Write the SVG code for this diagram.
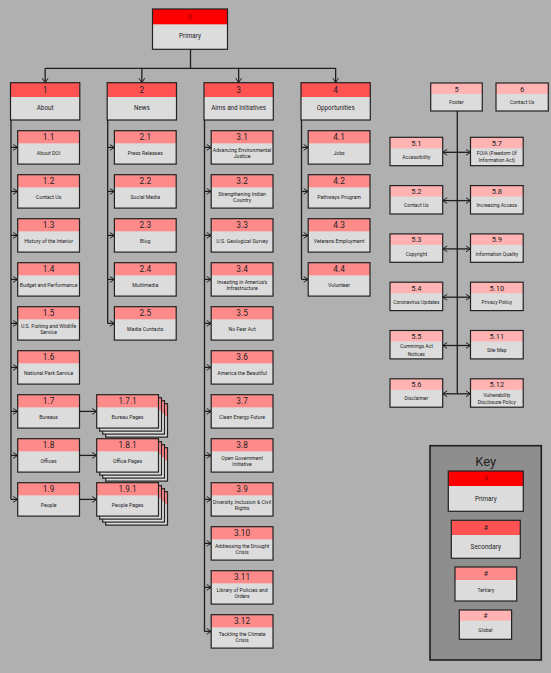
<svg xmlns="http://www.w3.org/2000/svg" width="551" height="673" viewBox="0 0 551 673">
<style>
.bg{fill:#b0b0b0}
.bd{fill:#dcdcdc}
.h1{fill:#ff0000}.h2{fill:#ff5252}.h3{fill:#ff8a8a}.h4{fill:#ffb3b3}
.ol{fill:none;stroke:#222;stroke-width:1.2}
text{font-family:Roboto,"Liberation Sans",sans-serif;fill:#222;text-anchor:middle}
.n3{font-size:8.3px}.l3{font-size:5.2px}
.n1{font-size:8.3px}.l1{font-size:6.3px}
.n4{font-size:7.5px}.l4{font-size:5px}
.dr{fill:#9a0000}
.cn path,.cn line{fill:none;stroke:#1e1e1e;stroke-width:1.3}
.ah{fill:none;stroke:#1e1e1e;stroke-width:1}
</style>
<defs>
<marker id="arr" markerUnits="userSpaceOnUse" markerWidth="7" markerHeight="8" refX="5" refY="3.7" orient="auto-start-reverse"><path class="ah" d="M0.5,0.8 L5,3.7 L0.5,6.6"/></marker>
<g id="c1"><rect class="bd" width="69.3" height="37.3"/><rect class="h2" width="69.3" height="14.3"/><rect class="ol" width="69.3" height="37.3"/></g>
<g id="c3"><rect class="bd" width="61.8" height="33.4"/><rect class="h3" width="61.8" height="12.6"/><rect class="ol" width="61.8" height="33.4"/></g>
<g id="c4"><rect class="bd" width="52.7" height="28.4"/><rect class="h4" width="52.7" height="11"/><rect class="ol" width="52.7" height="28.4"/></g>
</defs>
<rect class="bg" width="551" height="673"/>

<g class="cn" id="connectors">
<path d="M190.5,49.3 V68.3 M45.15,68.3 H335.65"/>
<path d="M45.15,68.3 V82.7" marker-end="url(#arr)"/>
<path d="M141.85,68.3 V82.7" marker-end="url(#arr)"/>
<path d="M238.65,68.3 V82.7" marker-end="url(#arr)"/>
<path d="M335.65,68.3 V82.7" marker-end="url(#arr)"/>
<path d="M11,120 V499.4"/>
<path d="M11,147.4 H17.7" marker-end="url(#arr)"/>
<path d="M11,191.4 H17.7" marker-end="url(#arr)"/>
<path d="M11,235.4 H17.7" marker-end="url(#arr)"/>
<path d="M11,279.4 H17.7" marker-end="url(#arr)"/>
<path d="M11,323.4 H17.7" marker-end="url(#arr)"/>
<path d="M11,367.4 H17.7" marker-end="url(#arr)"/>
<path d="M11,411.4 H17.7" marker-end="url(#arr)"/>
<path d="M11,455.4 H17.7" marker-end="url(#arr)"/>
<path d="M11,499.4 H17.7" marker-end="url(#arr)"/>
<path d="M79.5,411.4 H96.7" marker-end="url(#arr)"/>
<path d="M79.5,455.4 H96.7" marker-end="url(#arr)"/>
<path d="M79.5,499.4 H96.7" marker-end="url(#arr)"/>
<path d="M107.7,120 V323.4"/>
<path d="M107.7,147.4 H114.4" marker-end="url(#arr)"/>
<path d="M107.7,191.4 H114.4" marker-end="url(#arr)"/>
<path d="M107.7,235.4 H114.4" marker-end="url(#arr)"/>
<path d="M107.7,279.4 H114.4" marker-end="url(#arr)"/>
<path d="M107.7,323.4 H114.4" marker-end="url(#arr)"/>
<path d="M204.5,120 V631.4"/>
<path d="M204.5,147.4 H211.2" marker-end="url(#arr)"/>
<path d="M204.5,191.4 H211.2" marker-end="url(#arr)"/>
<path d="M204.5,235.4 H211.2" marker-end="url(#arr)"/>
<path d="M204.5,279.4 H211.2" marker-end="url(#arr)"/>
<path d="M204.5,323.4 H211.2" marker-end="url(#arr)"/>
<path d="M204.5,367.4 H211.2" marker-end="url(#arr)"/>
<path d="M204.5,411.4 H211.2" marker-end="url(#arr)"/>
<path d="M204.5,455.4 H211.2" marker-end="url(#arr)"/>
<path d="M204.5,499.4 H211.2" marker-end="url(#arr)"/>
<path d="M204.5,543.4 H211.2" marker-end="url(#arr)"/>
<path d="M204.5,587.4 H211.2" marker-end="url(#arr)"/>
<path d="M204.5,631.4 H211.2" marker-end="url(#arr)"/>
<path d="M301.5,120 V279.4"/>
<path d="M301.5,147.4 H308.2" marker-end="url(#arr)"/>
<path d="M301.5,191.4 H308.2" marker-end="url(#arr)"/>
<path d="M301.5,235.4 H308.2" marker-end="url(#arr)"/>
<path d="M301.5,279.4 H308.2" marker-end="url(#arr)"/>
<path d="M457.3,111 V393.8"/>
<path d="M442.7,152.3 H470.5" marker-start="url(#arr)" marker-end="url(#arr)"/>
<path d="M442.7,200.6 H470.5" marker-start="url(#arr)" marker-end="url(#arr)"/>
<path d="M442.7,248.9 H470.5" marker-start="url(#arr)" marker-end="url(#arr)"/>
<path d="M442.7,297.2 H470.5" marker-start="url(#arr)" marker-end="url(#arr)"/>
<path d="M442.7,345.5 H470.5" marker-start="url(#arr)" marker-end="url(#arr)"/>
<path d="M442.7,393.8 H470.5" marker-start="url(#arr)" marker-end="url(#arr)"/>
</g>

<g id="n0" transform="translate(152.5,9)"><rect class="bd" width="75" height="40.3"/><rect class="h1" width="75" height="15.3"/><rect class="ol" width="75" height="40.3"/><text class="dr" x="37.5" y="10.3" style="font-size:7.5px">0</text><text class="l1" x="37.5" y="29.3">Primary</text></g>

<g id="n1" transform="translate(10.5,82.7)"><use href="#c1"/><text class="n1" x="34.65" y="10.6">1</text><text class="l1" x="34.65" y="27.8">About</text></g>
<g id="n2" transform="translate(107.2,82.7)"><use href="#c1"/><text class="n1" x="34.65" y="10.6">2</text><text class="l1" x="34.65" y="27.8">News</text></g>
<g id="n3" transform="translate(204,82.7)"><use href="#c1"/><text class="n1" x="34.65" y="10.6">3</text><text class="l1" x="34.65" y="27.8">Aims and Initiatives</text></g>
<g id="n4" transform="translate(301,82.7)"><use href="#c1"/><text class="n1" x="34.65" y="10.6">4</text><text class="l1" x="34.65" y="27.8">Opportunities</text></g>

<g id="n1-1" transform="translate(17.7,130.7)"><use href="#c3"/><text class="n3" x="30.9" y="9.6">1.1</text><text class="l3" x="30.9" y="24.8">About DOI</text></g>
<g id="n1-2" transform="translate(17.7,174.7)"><use href="#c3"/><text class="n3" x="30.9" y="9.6">1.2</text><text class="l3" x="30.9" y="24.8">Contact Us</text></g>
<g id="n1-3" transform="translate(17.7,218.7)"><use href="#c3"/><text class="n3" x="30.9" y="9.6">1.3</text><text class="l3" x="30.9" y="24.8">History of the Interior</text></g>
<g id="n1-4" transform="translate(17.7,262.7)"><use href="#c3"/><text class="n3" x="30.9" y="9.6">1.4</text><text class="l3" x="30.9" y="24.8">Budget and Performance</text></g>
<g id="n1-5" transform="translate(17.7,306.7)"><use href="#c3"/><text class="n3" x="30.9" y="9.6">1.5</text><text class="l3" x="30.9" y="21.2">U.S. Fishing and Wildlife</text><text class="l3" x="30.9" y="27.5">Service</text></g>
<g id="n1-6" transform="translate(17.7,350.7)"><use href="#c3"/><text class="n3" x="30.9" y="9.6">1.6</text><text class="l3" x="30.9" y="24.8">National Park Service</text></g>
<g id="n1-7" transform="translate(17.7,394.7)"><use href="#c3"/><text class="n3" x="30.9" y="9.6">1.7</text><text class="l3" x="30.9" y="24.8">Bureaus</text></g>
<g id="n1-8" transform="translate(17.7,438.7)"><use href="#c3"/><text class="n3" x="30.9" y="9.6">1.8</text><text class="l3" x="30.9" y="24.8">Offices</text></g>
<g id="n1-9" transform="translate(17.7,482.7)"><use href="#c3"/><text class="n3" x="30.9" y="9.6">1.9</text><text class="l3" x="30.9" y="24.8">People</text></g>

<g id="n1-7-1" transform="translate(96.7,394.7)"><use href="#c3" x="9" y="9"/><use href="#c3" x="6" y="6"/><use href="#c3" x="3" y="3"/><use href="#c3"/><text class="n3" x="30.9" y="9.6">1.7.1</text><text class="l3" x="30.9" y="24.8">Bureau Pages</text></g>
<g id="n1-8-1" transform="translate(96.7,438.7)"><use href="#c3" x="9" y="9"/><use href="#c3" x="6" y="6"/><use href="#c3" x="3" y="3"/><use href="#c3"/><text class="n3" x="30.9" y="9.6">1.8.1</text><text class="l3" x="30.9" y="24.8">Office Pages</text></g>
<g id="n1-9-1" transform="translate(96.7,482.7)"><use href="#c3" x="9" y="9"/><use href="#c3" x="6" y="6"/><use href="#c3" x="3" y="3"/><use href="#c3"/><text class="n3" x="30.9" y="9.6">1.9.1</text><text class="l3" x="30.9" y="24.8">People Pages</text></g>

<g id="n2-1" transform="translate(114.4,130.7)"><use href="#c3"/><text class="n3" x="30.9" y="9.6">2.1</text><text class="l3" x="30.9" y="24.8">Press Releases</text></g>
<g id="n2-2" transform="translate(114.4,174.7)"><use href="#c3"/><text class="n3" x="30.9" y="9.6">2.2</text><text class="l3" x="30.9" y="24.8">Social Media</text></g>
<g id="n2-3" transform="translate(114.4,218.7)"><use href="#c3"/><text class="n3" x="30.9" y="9.6">2.3</text><text class="l3" x="30.9" y="24.8">Blog</text></g>
<g id="n2-4" transform="translate(114.4,262.7)"><use href="#c3"/><text class="n3" x="30.9" y="9.6">2.4</text><text class="l3" x="30.9" y="24.8">Multimedia</text></g>
<g id="n2-5" transform="translate(114.4,306.7)"><use href="#c3"/><text class="n3" x="30.9" y="9.6">2.5</text><text class="l3" x="30.9" y="24.8">Media Contacts</text></g>

<g id="n3-1" transform="translate(211.2,130.7)"><use href="#c3"/><text class="n3" x="30.9" y="9.6">3.1</text><text class="l3" x="30.9" y="21.2">Advancing Environmental</text><text class="l3" x="30.9" y="27.5">Justice</text></g>
<g id="n3-2" transform="translate(211.2,174.7)"><use href="#c3"/><text class="n3" x="30.9" y="9.6">3.2</text><text class="l3" x="30.9" y="21.2">Strengthening Indian</text><text class="l3" x="30.9" y="27.5">Country</text></g>
<g id="n3-3" transform="translate(211.2,218.7)"><use href="#c3"/><text class="n3" x="30.9" y="9.6">3.3</text><text class="l3" x="30.9" y="24.8">U.S. Geological Survey</text></g>
<g id="n3-4" transform="translate(211.2,262.7)"><use href="#c3"/><text class="n3" x="30.9" y="9.6">3.4</text><text class="l3" x="30.9" y="21.2">Investing in America's</text><text class="l3" x="30.9" y="27.5">Infrastructure</text></g>
<g id="n3-5" transform="translate(211.2,306.7)"><use href="#c3"/><text class="n3" x="30.9" y="9.6">3.5</text><text class="l3" x="30.9" y="24.8">No Fear Act</text></g>
<g id="n3-6" transform="translate(211.2,350.7)"><use href="#c3"/><text class="n3" x="30.9" y="9.6">3.6</text><text class="l3" x="30.9" y="24.8">America the Beautiful</text></g>
<g id="n3-7" transform="translate(211.2,394.7)"><use href="#c3"/><text class="n3" x="30.9" y="9.6">3.7</text><text class="l3" x="30.9" y="24.8">Clean Energy Future</text></g>
<g id="n3-8" transform="translate(211.2,438.7)"><use href="#c3"/><text class="n3" x="30.9" y="9.6">3.8</text><text class="l3" x="30.9" y="21.2">Open Government</text><text class="l3" x="30.9" y="27.5">Initiative</text></g>
<g id="n3-9" transform="translate(211.2,482.7)"><use href="#c3"/><text class="n3" x="30.9" y="9.6">3.9</text><text class="l3" x="30.9" y="21.2">Diversity, Inclusion &amp; Civil</text><text class="l3" x="30.9" y="27.5">Rights</text></g>
<g id="n3-10" transform="translate(211.2,526.7)"><use href="#c3"/><text class="n3" x="30.9" y="9.6">3.10</text><text class="l3" x="30.9" y="21.2">Addressing the Drought</text><text class="l3" x="30.9" y="27.5">Crisis</text></g>
<g id="n3-11" transform="translate(211.2,570.7)"><use href="#c3"/><text class="n3" x="30.9" y="9.6">3.11</text><text class="l3" x="30.9" y="21.2">Library of Policies and</text><text class="l3" x="30.9" y="27.5">Orders</text></g>
<g id="n3-12" transform="translate(211.2,614.7)"><use href="#c3"/><text class="n3" x="30.9" y="9.6">3.12</text><text class="l3" x="30.9" y="21.2">Tackling the Climate</text><text class="l3" x="30.9" y="27.5">Crisis</text></g>

<g id="n4-1" transform="translate(308.2,130.7)"><use href="#c3"/><text class="n3" x="30.9" y="9.6">4.1</text><text class="l3" x="30.9" y="24.8">Jobs</text></g>
<g id="n4-2" transform="translate(308.2,174.7)"><use href="#c3"/><text class="n3" x="30.9" y="9.6">4.2</text><text class="l3" x="30.9" y="24.8">Pathways Program</text></g>
<g id="n4-3" transform="translate(308.2,218.7)"><use href="#c3"/><text class="n3" x="30.9" y="9.6">4.3</text><text class="l3" x="30.9" y="24.8">Veterans Employment</text></g>
<g id="n4-4" transform="translate(308.2,262.7)"><use href="#c3"/><text class="n3" x="30.9" y="9.6">4.4</text><text class="l3" x="30.9" y="24.8">Volunteer</text></g>

<g id="n5" transform="translate(430.7,83)"><rect class="bd" width="51.6" height="28"/><rect class="h4" width="51.6" height="11"/><rect class="ol" width="51.6" height="28"/><text class="n4" x="25.8" y="8.6">5</text><text class="l4" x="25.8" y="21">Footer</text></g>
<g id="n6" transform="translate(496,83)"><rect class="bd" width="52.3" height="28"/><rect class="h4" width="52.3" height="11"/><rect class="ol" width="52.3" height="28"/><text class="n4" x="26.15" y="8.6">6</text><text class="l4" x="26.15" y="21">Contact Us</text></g>

<g id="n5-1" transform="translate(390,137.3)"><use href="#c4"/><text class="n4" x="26.35" y="8.6">5.1</text><text class="l4" x="26.35" y="21.7">Accessibility</text></g>
<g id="n5-2" transform="translate(390,185.6)"><use href="#c4"/><text class="n4" x="26.35" y="8.6">5.2</text><text class="l4" x="26.35" y="21.7">Contact Us</text></g>
<g id="n5-3" transform="translate(390,233.9)"><use href="#c4"/><text class="n4" x="26.35" y="8.6">5.3</text><text class="l4" x="26.35" y="21.7">Copyright</text></g>
<g id="n5-4" transform="translate(390,282.2)"><use href="#c4"/><text class="n4" x="26.35" y="8.6">5.4</text><text class="l4" x="26.35" y="21.7">Coronavirus Updates</text></g>
<g id="n5-5" transform="translate(390,330.5)"><use href="#c4"/><text class="n4" x="26.35" y="8.6">5.5</text><text class="l4" x="26.35" y="17.8">Cummings Act</text><text class="l4" x="26.35" y="25">Notices</text></g>
<g id="n5-6" transform="translate(390,378.8)"><use href="#c4"/><text class="n4" x="26.35" y="8.6">5.6</text><text class="l4" x="26.35" y="21.7">Disclaimer</text></g>
<g id="n5-7" transform="translate(470.5,137.3)"><use href="#c4"/><text class="n4" x="26.35" y="8.6">5.7</text><text class="l4" x="26.35" y="17.8">FOIA (Freedom Of</text><text class="l4" x="26.35" y="25">Information Act)</text></g>
<g id="n5-8" transform="translate(470.5,185.6)"><use href="#c4"/><text class="n4" x="26.35" y="8.6">5.8</text><text class="l4" x="26.35" y="21.7">Increasing Access</text></g>
<g id="n5-9" transform="translate(470.5,233.9)"><use href="#c4"/><text class="n4" x="26.35" y="8.6">5.9</text><text class="l4" x="26.35" y="21.7">Information Quality</text></g>
<g id="n5-10" transform="translate(470.5,282.2)"><use href="#c4"/><text class="n4" x="26.35" y="8.6">5.10</text><text class="l4" x="26.35" y="21.7">Privacy Policy</text></g>
<g id="n5-11" transform="translate(470.5,330.5)"><use href="#c4"/><text class="n4" x="26.35" y="8.6">5.11</text><text class="l4" x="26.35" y="21.7">Site Map</text></g>
<g id="n5-12" transform="translate(470.5,378.8)"><use href="#c4"/><text class="n4" x="26.35" y="8.6">5.12</text><text class="l4" x="26.35" y="17.8">Vulnerability</text><text class="l4" x="26.35" y="25">Disclosure Policy</text></g>

<g id="key">
<rect x="430" y="445.7" width="111.3" height="214.3" fill="#8e8e8e" stroke="#1e1e1e" stroke-width="1.6"/>
<text x="485.7" y="465.5" style="font-size:13px">Key</text>
<g transform="translate(448.3,471)"><rect class="bd" width="75" height="40.3"/><rect class="h1" width="75" height="15"/><rect class="ol" width="75" height="40.3"/><text class="dr" x="37.5" y="10.3" style="font-size:7px">#</text><text x="37.5" y="29.8" style="font-size:6.3px">Primary</text></g>
<g transform="translate(451.3,520.3)"><rect class="bd" width="69" height="38"/><rect class="h2" width="69" height="14.7"/><rect class="ol" width="69" height="38"/><text x="34.5" y="10.2" style="font-size:7px">#</text><text x="34.5" y="29" style="font-size:6.5px">Secondary</text></g>
<g transform="translate(455,567)"><rect class="bd" width="61.7" height="34"/><rect class="h3" width="61.7" height="13"/><rect class="ol" width="61.7" height="34"/><text x="30.85" y="9.4" style="font-size:7px">#</text><text x="30.85" y="25.4" style="font-size:5px">Tertiary</text></g>
<g transform="translate(459.3,610)"><rect class="bd" width="52.3" height="29.3"/><rect class="h4" width="52.3" height="10.7"/><rect class="ol" width="52.3" height="29.3"/><text x="26.15" y="8" style="font-size:6.5px">#</text><text x="26.15" y="21.8" style="font-size:5px">Global</text></g>
</g>
</svg>
